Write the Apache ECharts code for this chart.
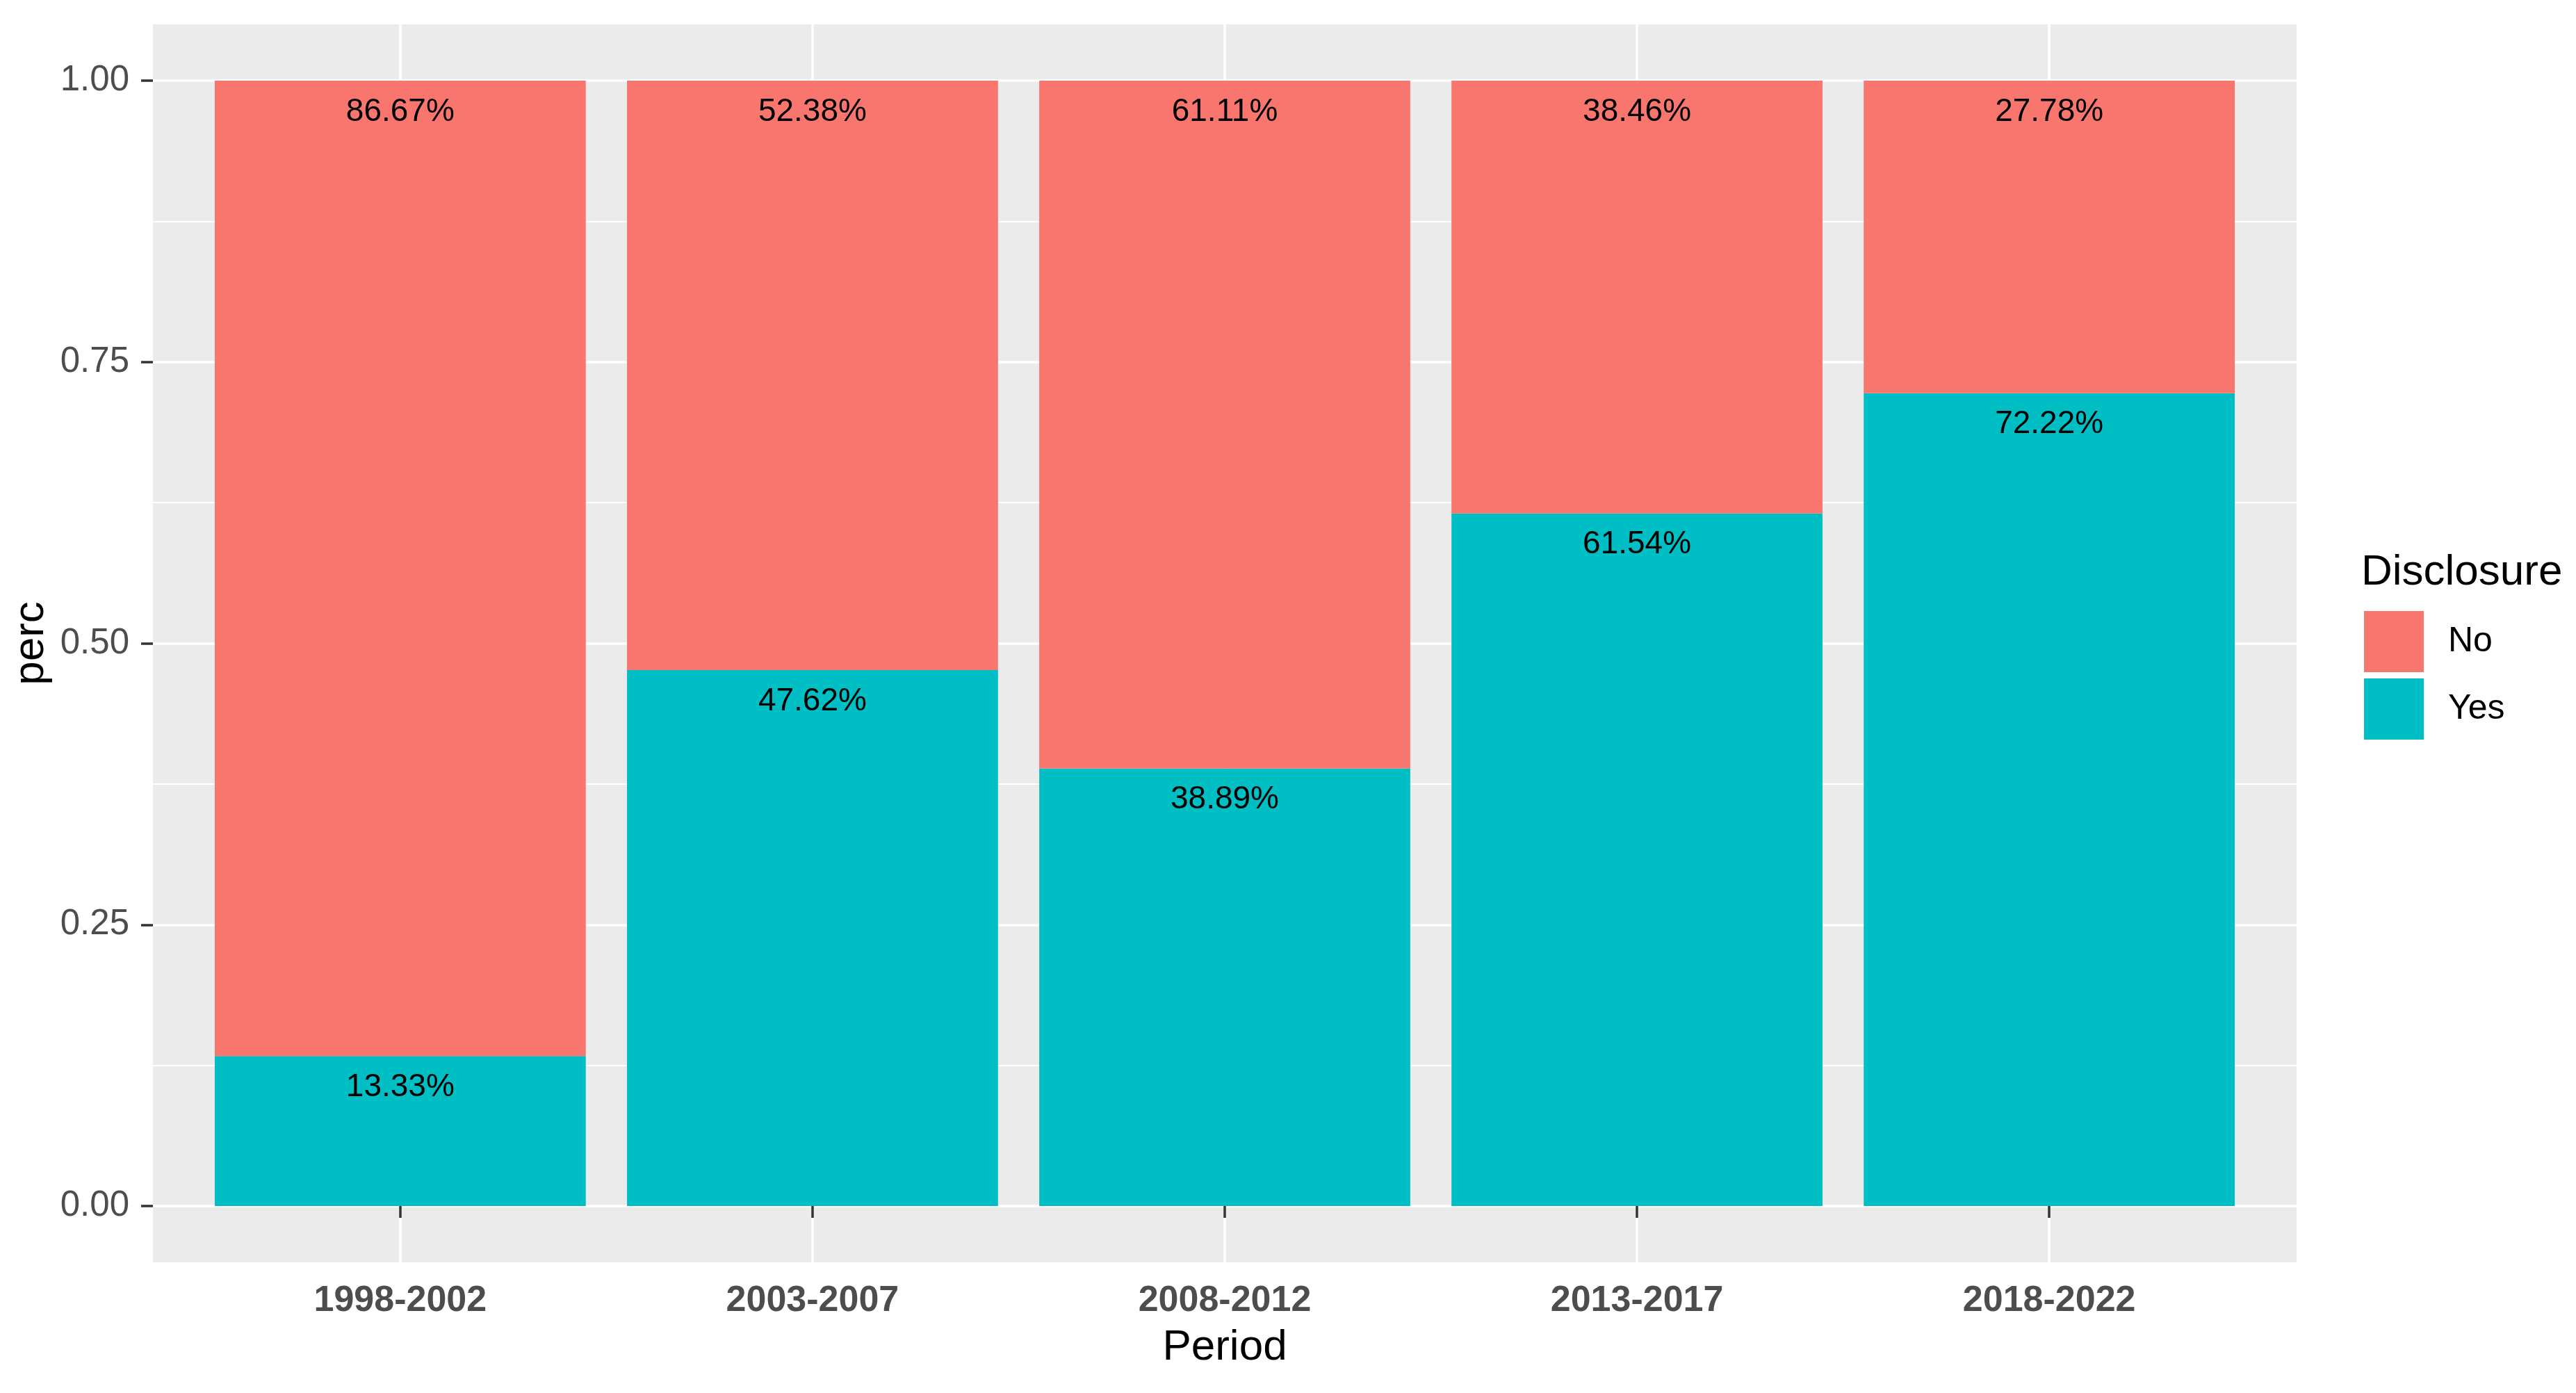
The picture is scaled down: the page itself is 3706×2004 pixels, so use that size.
<!DOCTYPE html>
<html>
<head>
<meta charset="utf-8">
<script src="https://cdn.jsdelivr.net/npm/echarts@6/dist/echarts.min.js"></script>
<style>
html,body{margin:0;padding:0;background:#fff;}
#chart{width:3706px;height:2004px;}
</style>
</head>
<body>
<div id="chart"></div>
<script>
// ---- data ----
const categories = ['1998-2002', '2003-2007', '2008-2012', '2013-2017', '2018-2022'];
const yesPct = [13.33, 47.62, 38.89, 61.54, 72.22];
const noPct  = [86.67, 52.38, 61.11, 38.46, 27.78];
const yTicks = [0, 0.25, 0.5, 0.75, 1];
const yMinorTicks = [0.125, 0.375, 0.625, 0.875];
const seriesNames = ['No', 'Yes'];

// ---- layout (ggplot-like panel with discrete expansion 0.6 and continuous 5%) ----
const panel = {left: 220, right: 3304, top: 35, bottom: 1816};
const n = categories.length;
const xSpan = (n - 1) + 1.2;
const unit = (panel.right - panel.left) / xSpan;
const yUnit = (panel.bottom - panel.top) / 1.1;
const font = 'Liberation Sans, Arial, sans-serif';

const catPos = categories.map((_, i) => i + 1);

const chart = echarts.init(document.getElementById('chart'), null, {renderer: 'canvas'});
chart.setOption({
  backgroundColor: '#FFFFFF',
  animation: false,
  title: {
    text: 'Disclosure',
    left: 3397, top: 793,
    padding: 0,
    textStyle: {fontFamily: font, fontSize: 62, fontWeight: 'normal', color: '#000000'}
  },
  legend: {
    data: seriesNames,
    orient: 'vertical',
    left: 3401, top: 879,
    itemWidth: 86, itemHeight: 88, itemGap: 9,
    icon: 'rect',
    padding: 0,
    textStyle: {fontFamily: font, fontSize: 50, color: '#000000', padding: [36, 0, 0, 30]}
  },
  grid: [
    { // panel
      left: panel.left, width: panel.right - panel.left,
      top: panel.top, height: panel.bottom - panel.top,
      show: true, backgroundColor: '#EBEBEB', borderWidth: 0
    },
    { // bars
      left: panel.left + 0.1 * unit, width: n * unit,
      top: panel.top + 0.05 * yUnit, height: yUnit
    }
  ],
  xAxis: [
    {
      gridIndex: 0, type: 'value', min: 0.4, max: n + 0.6,
      name: 'Period', nameLocation: 'middle', nameGap: 92,
      nameTextStyle: {fontFamily: font, fontSize: 62, color: '#000000'},
      axisLine: {show: false},
      axisTick: {show: true, customValues: catPos, length: 17, lineStyle: {color: '#333333', width: 3.5}},
      axisLabel: {
        customValues: catPos, margin: 30,
        fontFamily: font, fontSize: 52, fontWeight: 'bold', color: '#4D4D4D',
        formatter: v => categories[Math.round(v) - 1] || ''
      },
      splitLine: {show: true, lineStyle: {color: '#FFFFFF', width: 3.5}}
    },
    {
      gridIndex: 1, type: 'category', data: categories,
      axisLine: {show: false}, axisTick: {show: false}, axisLabel: {show: false}, splitLine: {show: false}
    }
  ],
  yAxis: [
    {
      gridIndex: 0, type: 'value', min: -0.05, max: 1.05,
      name: 'perc', nameLocation: 'middle', nameGap: 128, nameRotate: 90,
      nameTextStyle: {fontFamily: font, fontSize: 62, color: '#000000'},
      axisLine: {show: false},
      axisTick: {show: true, customValues: yTicks, length: 17, lineStyle: {color: '#333333', width: 3.5}},
      axisLabel: {
        customValues: yTicks, margin: 34,
        fontFamily: font, fontSize: 51, color: '#4D4D4D',
        formatter: v => v.toFixed(2)
      },
      splitLine: {show: true, lineStyle: {color: '#FFFFFF', width: 3.5}}
    },
    {
      gridIndex: 0, type: 'value', min: -0.05, max: 1.05,
      axisLine: {show: false},
      axisTick: {show: false, customValues: yMinorTicks},
      axisLabel: {show: false, customValues: yMinorTicks},
      splitLine: {show: true, lineStyle: {color: '#FFFFFF', width: 1.8}}
    },
    {
      gridIndex: 1, type: 'value', min: 0, max: 1,
      axisLine: {show: false}, axisTick: {show: false}, axisLabel: {show: false}, splitLine: {show: false}
    }
  ],
  series: [
    {
      name: 'Yes', type: 'bar', stack: 'total', xAxisIndex: 1, yAxisIndex: 2,
      barWidth: '90%',
      itemStyle: {color: '#00BFC4'},
      data: yesPct.map(v => v / 100),
      label: {
        show: true, position: 'insideTop', distance: 22,
        fontFamily: font, fontSize: 46, color: '#000000',
        formatter: p => yesPct[p.dataIndex].toFixed(2) + '%'
      }
    },
    {
      name: 'No', type: 'bar', stack: 'total', xAxisIndex: 1, yAxisIndex: 2,
      barWidth: '90%',
      itemStyle: {color: '#F8766D'},
      data: noPct.map(v => v / 100),
      label: {
        show: true, position: 'insideTop', distance: 22,
        fontFamily: font, fontSize: 46, color: '#000000',
        formatter: p => noPct[p.dataIndex].toFixed(2) + '%'
      }
    }
  ]
});
</script>
</body>
</html>
